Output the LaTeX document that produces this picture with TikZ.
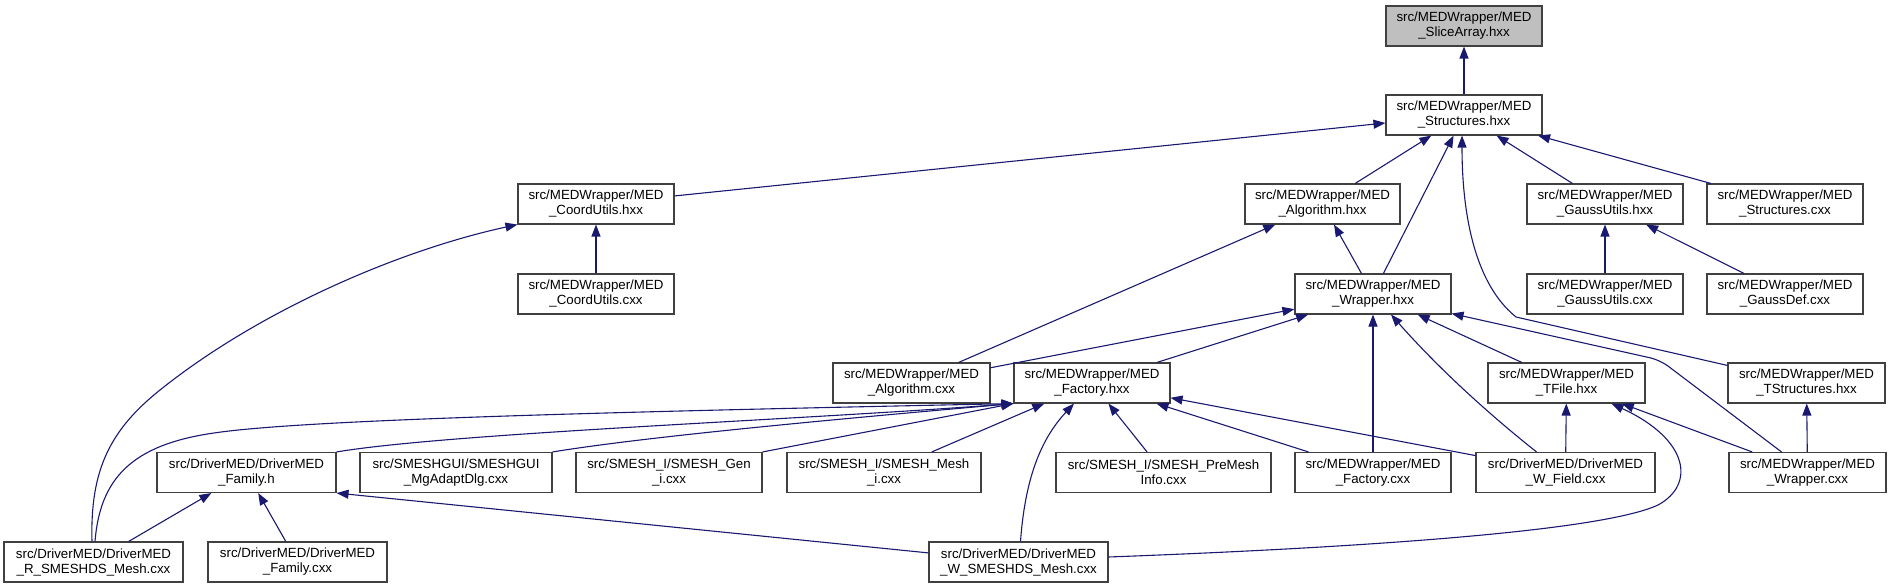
\documentclass[tikz,border=0pt]{standalone}
\usepackage{fontspec}
\setmainfont{Liberation Sans}
\usetikzlibrary{arrows.meta,calc}
\definecolor{edgecol}{HTML}{191970}
\definecolor{boxgray}{HTML}{BFBFBF}
\definecolor{boxline}{HTML}{404040}
\begin{document}
\begin{tikzpicture}[x=1pt,y=-1pt,
  box/.style={draw=boxline,line width=1.1pt,fill=white,minimum height=40pt,inner sep=0pt,align=center,
    font=\fontsize{13.3}{15}\selectfont},
  edge/.style={draw=edgecol,line width=1.1pt,-{Triangle[length=12pt,width=9pt]}}]
\useasboundingbox (0,0) rectangle (1891,588);
% row 0
\node[box,fill=boxgray,minimum width=156pt] (slice) at (1464,26) {src/MEDWrapper/MED\\\_SliceArray.hxx};
% row 1
\node[box,minimum width=156pt] (struct) at (1464,115) {src/MEDWrapper/MED\\\_Structures.hxx};
% row 2
\node[box,minimum width=156pt] (coordH) at (596,204) {src/MEDWrapper/MED\\\_CoordUtils.hxx};
\node[box,minimum width=155pt] (algH) at (1322.5,204) {src/MEDWrapper/MED\\\_Algorithm.hxx};
\node[box,minimum width=156pt] (gaussH) at (1605,204) {src/MEDWrapper/MED\\\_GaussUtils.hxx};
\node[box,minimum width=156pt] (structC) at (1785,204) {src/MEDWrapper/MED\\\_Structures.cxx};
% row 3
\node[box,minimum width=156pt] (coordC) at (596,294) {src/MEDWrapper/MED\\\_CoordUtils.cxx};
\node[box,minimum width=156pt] (wrapH) at (1373,294) {src/MEDWrapper/MED\\\_Wrapper.hxx};
\node[box,minimum width=156pt] (gaussC) at (1605,294) {src/MEDWrapper/MED\\\_GaussUtils.cxx};
\node[box,minimum width=156pt] (gaussDef) at (1785,294) {src/MEDWrapper/MED\\\_GaussDef.cxx};
% row 4
\node[box,minimum width=157pt] (algC) at (911.5,383) {src/MEDWrapper/MED\\\_Algorithm.cxx};
\node[box,minimum width=156pt] (factH) at (1092,383) {src/MEDWrapper/MED\\\_Factory.hxx};
\node[box,minimum width=157pt] (tfile) at (1566.5,383) {src/MEDWrapper/MED\\\_TFile.hxx};
\node[box,minimum width=157pt] (tstruct) at (1806.5,383) {src/MEDWrapper/MED\\\_TStructures.hxx};
% row 5
\node[box,minimum width=179pt] (familyH) at (246.5,472.5) {src/DriverMED/DriverMED\\\_Family.h};
\node[box,minimum width=192pt] (mgadapt) at (456,472.5) {src/SMESHGUI/SMESHGUI\\\_MgAdaptDlg.cxx};
\node[box,minimum width=186pt] (gen) at (669,472.5) {src/SMESH\_I/SMESH\_Gen\\\_i.cxx};
\node[box,minimum width=194pt] (meshI) at (884,472.5) {src/SMESH\_I/SMESH\_Mesh\\\_i.cxx};
\node[box,minimum width=215pt] (premesh) at (1163.5,472.5) {src/SMESH\_I/SMESH\_PreMesh\\Info.cxx};
\node[box,minimum width=156pt] (factC) at (1373,472.5) {src/MEDWrapper/MED\\\_Factory.cxx};
\node[box,minimum width=179pt] (wfield) at (1565.5,472.5) {src/DriverMED/DriverMED\\\_W\_Field.cxx};
\node[box,minimum width=157pt] (wrapC) at (1807.5,472.5) {src/MEDWrapper/MED\\\_Wrapper.cxx};
% row 6
\node[box,minimum width=179pt] (rmesh) at (93.5,562) {src/DriverMED/DriverMED\\\_R\_SMESHDS\_Mesh.cxx};
\node[box,minimum width=179pt] (familyC) at (297.5,562) {src/DriverMED/DriverMED\\\_Family.cxx};
\node[box,minimum width=179pt] (wmesh) at (1018.5,562) {src/DriverMED/DriverMED\\\_W\_SMESHDS\_Mesh.cxx};

% edges
\draw[edge] (struct) -- (slice);
\draw[edge] (coordH) -- (struct);
\draw[edge] (algH) -- (struct);
\draw[edge] (wrapH) -- (struct);
\draw[edge] (gaussH) -- (struct);
\draw[edge] (structC) -- (struct);
\draw[edge] ([yshift=-3pt]tstruct.north west) -- (1516,317) .. controls (1470,280) and (1462,200) .. ([xshift=-2pt]struct.south);
\draw[edge] (coordC) -- (coordH);
\draw[edge] ([xshift=-1.5pt]rmesh.north) .. controls (90,470) and (110,430) .. (160,390) .. controls (260,310) and (400,250) .. (coordH.south west);
\draw[edge] (algC) -- (algH);
\draw[edge] (wrapH) -- (algH);
\draw[edge] (gaussC) -- (gaussH);
\draw[edge] (gaussDef) -- (gaussH);
\draw[edge] (algC) -- (wrapH);
\draw[edge] (factH) -- (wrapH);
\draw[edge] (factC) -- (wrapH);
\draw[edge] ([xshift=-29pt]wfield.north) .. controls (1490,415) and (1440,370) .. ([xshift=18pt]wrapH.south);
\draw[edge] (tfile) -- (wrapH);
\draw[edge,rounded corners=10pt] ([xshift=-26pt]wrapC.north) -- (1660,360) -- ([yshift=1pt]wrapH.south east);
\draw[edge] (wfield) -- (tfile);
\draw[edge] ([yshift=5pt]wmesh.east) .. controls (1350,548) and (1600,532) .. (1658,505) .. controls (1695,485) and (1690,440) .. ([xshift=45pt]tfile.south);
\draw[edge] (wrapC) -- (tfile);
\draw[edge] (wrapC) -- (tstruct);
\draw[edge] ([xshift=1.5pt]rmesh.north) .. controls (100,480) and (130,445) .. (214,433) .. controls (300,420) and (600,412) .. (factH.south west);
\draw[edge] (familyH.north east) .. controls (450,433) and (800,420) .. (factH.south west);
\draw[edge] (mgadapt.north east) .. controls (650,436) and (850,418) .. (factH.south west);
\draw[edge] (gen.north east) -- (factH.south west);
\draw[edge] (meshI) -- (factH);
\draw[edge] ([xshift=2pt]wmesh.north) .. controls (1025,480) and (1040,440) .. ([xshift=-18pt]factH.south);
\draw[edge] (premesh) -- (factH);
\draw[edge] (factC) -- (factH);
\draw[edge] (wfield) -- (factH);
\draw[edge] (rmesh) -- (familyH);
\draw[edge] (familyC) -- (familyH);
\draw[edge] (wmesh) -- (familyH.south east);
\end{tikzpicture}
\end{document}
